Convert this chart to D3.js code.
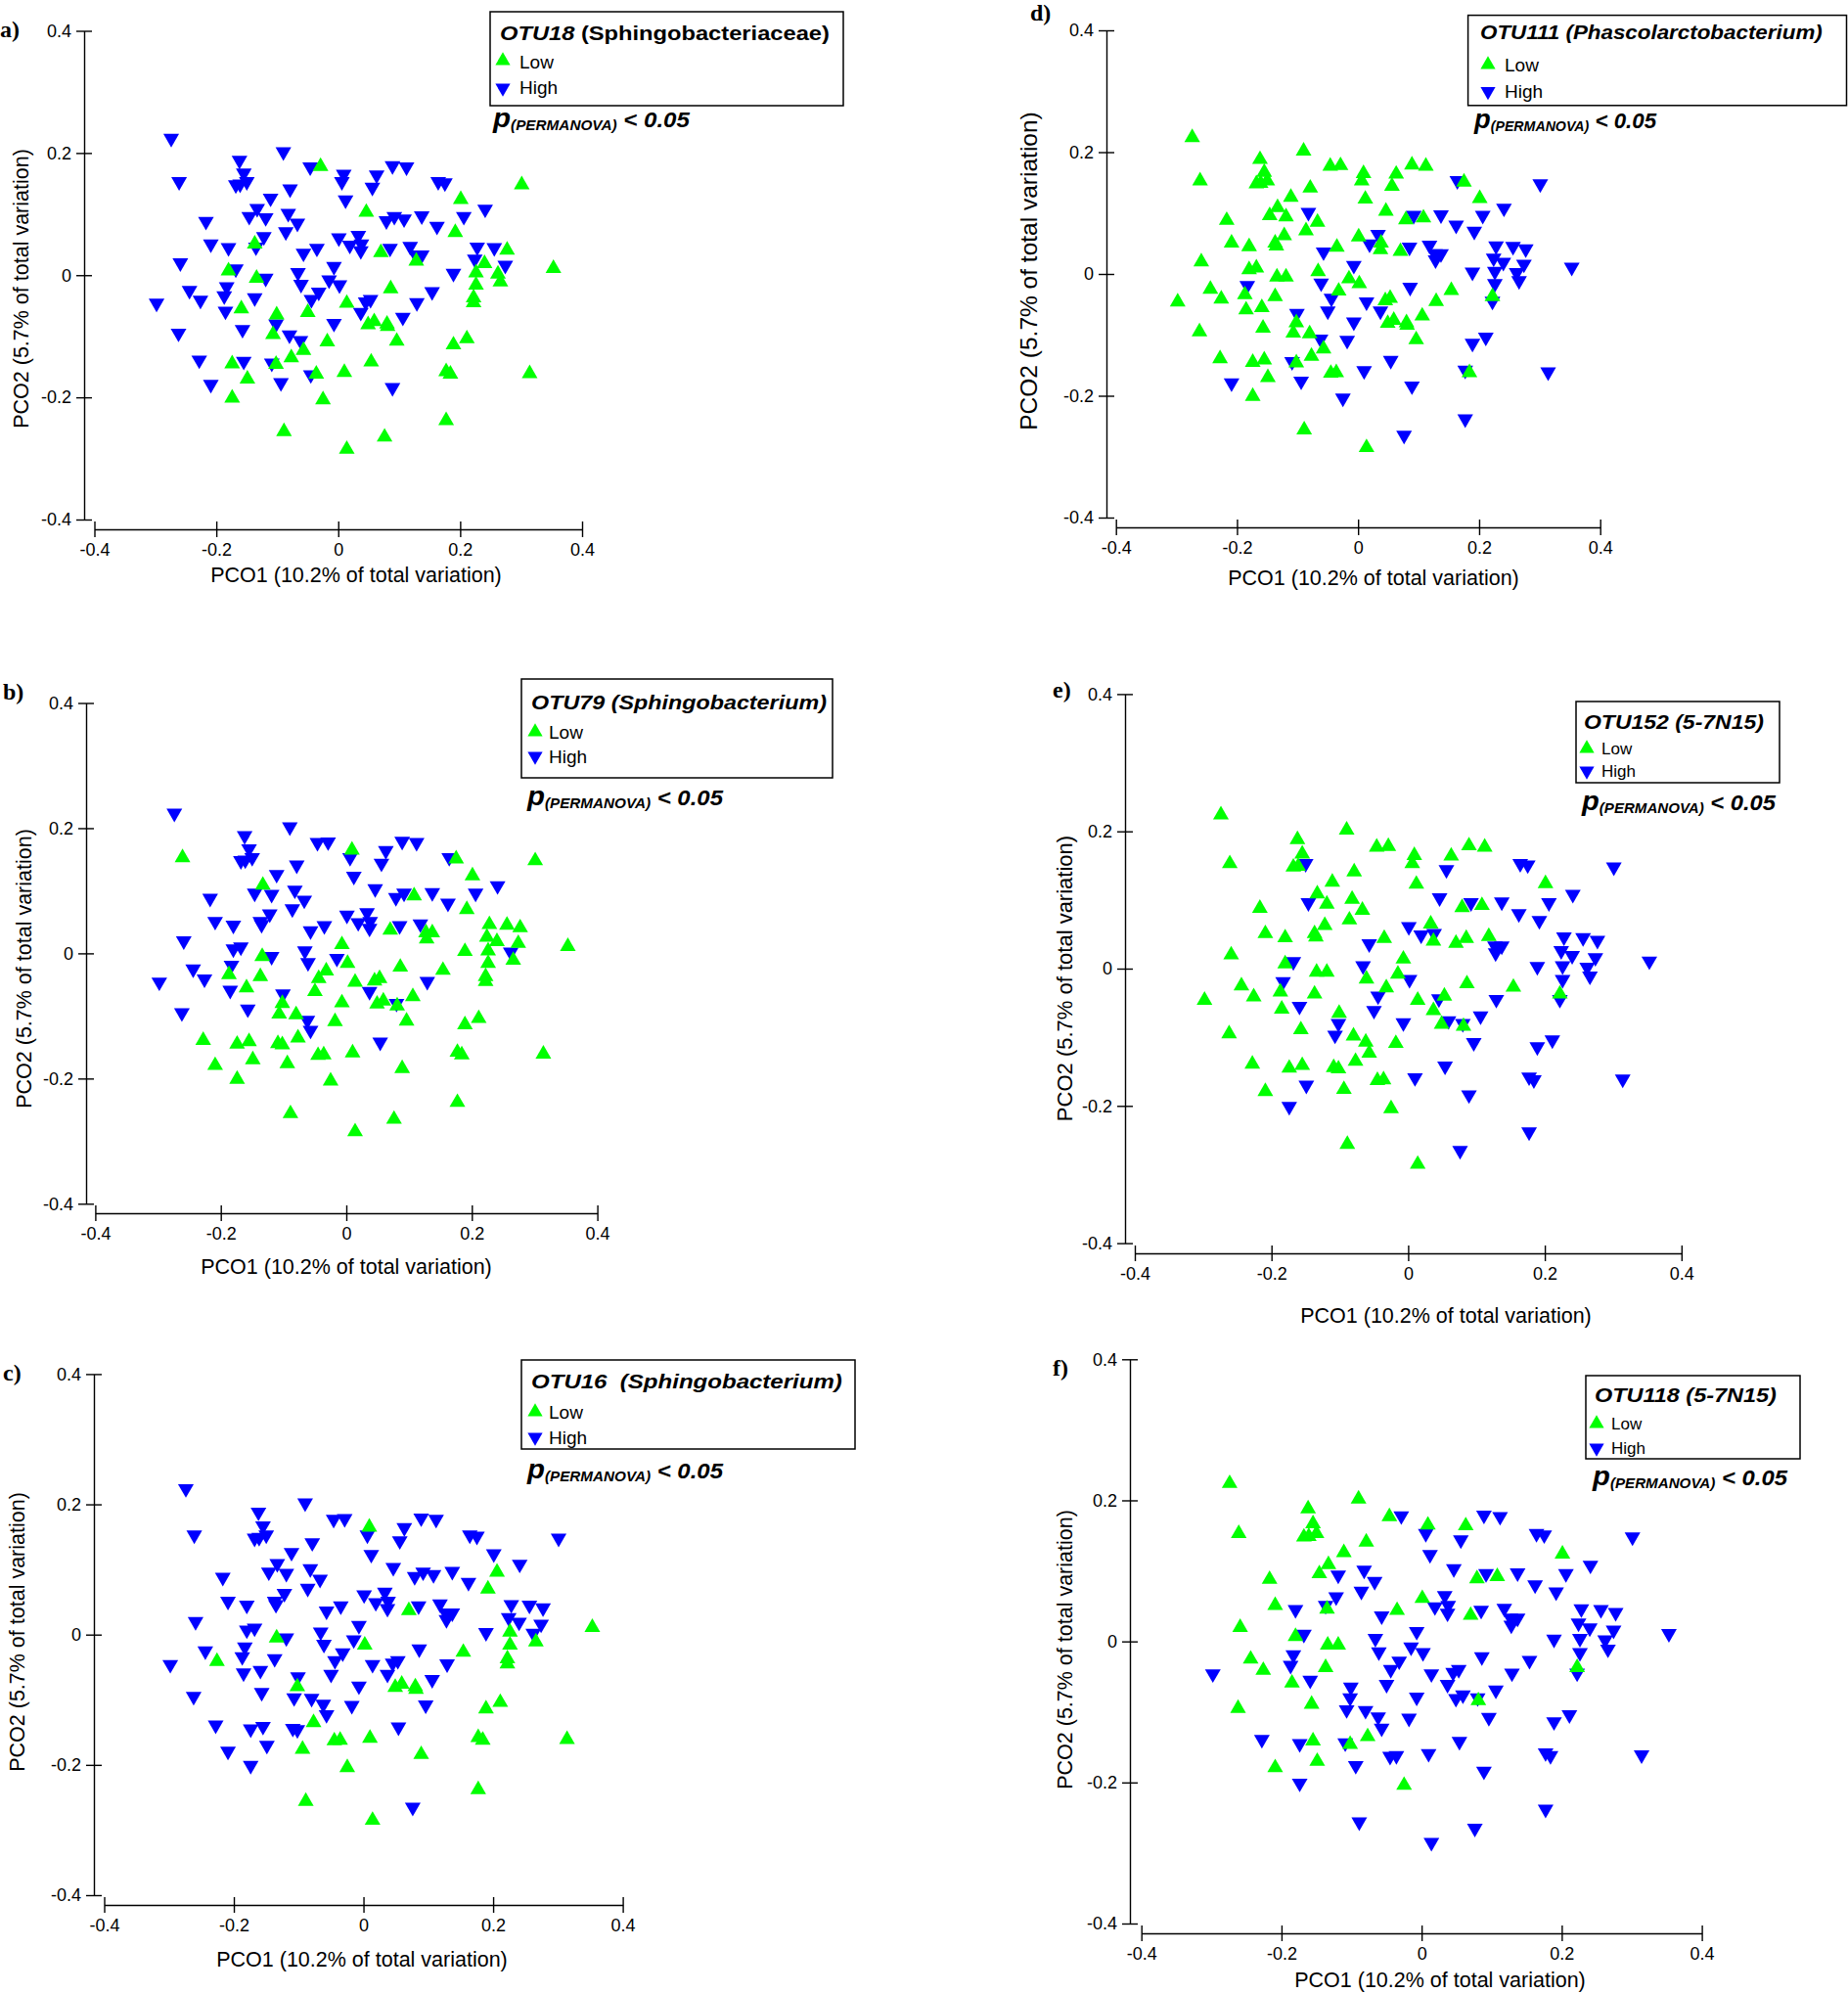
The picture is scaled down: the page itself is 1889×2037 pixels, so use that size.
<!DOCTYPE html>
<html>
<head>
<meta charset="utf-8">
<script src="https://cdn.jsdelivr.net/npm/d3@7"></script>
<style>
  body { margin: 0; background: #fff; }
  svg { display: block; }
  text { font-family: "Liberation Sans", Arial, sans-serif; fill: #000; }
</style>
</head>
<body>
<svg id="chart" width="1889" height="2037"></svg>
<script>
// ---------- DATA (same PCO ordination in all six panels) ----------
const pco1 = [
 -0.274,-0.090,-0.162,-0.046,-0.029,0.089,0.112,0.009,0.006,0.063,
 0.056,-0.155,-0.150,-0.168,-0.161,0.164,0.175,0.301,-0.261,-0.079,
 -0.111,0.012,0.201,0.241,-0.133,-0.146,-0.119,-0.082,-0.067,-0.217,
 0.046,0.079,0.092,0.108,0.137,0.206,0.162,-0.086,0.192,-0.122,
 -0.135,-0.137,-0.209,-0.180,0.001,0.033,0.019,0.038,0.037,-0.057,-0.035,
 0.070,0.085,0.118,0.127,0.137,0.128,0.228,0.256,0.277,-0.259,
 0.224,0.240,0.274,-0.007,-0.180,-0.168,-0.134,-0.119,-0.066,-0.061,
 -0.015,0.002,0.189,0.226,0.262,0.266,0.353,0.226,-0.183,-0.244,
 -0.226,-0.298,-0.187,-0.137,-0.032,-0.044,0.014,0.045,0.053,0.086,0.154,
 0.129,0.222,0.222,-0.185,-0.159,-0.050,-0.101,0.037,-0.157,-0.102,
 -0.107,-0.080,-0.007,0.049,0.059,0.080,0.081,0.106,-0.262,-0.062,
 -0.057,-0.018,0.096,0.189,0.211,-0.228,-0.174,-0.155,-0.109,-0.102,
 -0.077,0.054,-0.045,-0.036,0.010,0.177,0.184,0.314,-0.209,-0.149,
 -0.094,0.089,-0.174,-0.025,0.177,-0.089,0.076,0.014
];
const pco2 = [
 0.224,0.202,0.188,0.177,0.178,0.179,0.177,0.165,0.153,0.164,
 0.144,0.167,0.153,0.148,0.149,0.153,0.151,0.148,0.153,0.141,
 0.126,0.123,0.124,0.108,0.109,0.096,0.094,0.101,0.085,0.088,
 0.103,0.089,0.096,0.092,0.097,0.096,0.080,0.071,0.070,0.063,
 0.046,0.051,0.051,0.045,0.061,0.065,0.049,0.051,0.040,0.036,0.044,
 0.037,0.044,0.047,0.033,0.033,0.023,0.046,0.045,0.041,0.020,
 0.026,0.019,0.016,0.014,0.007,0.010,-0.005,-0.005,0.004,-0.015,
 -0.008,-0.016,0.003,0.004,0.002,-0.011,0.011,-0.016,-0.019,-0.025,
 -0.041,-0.046,-0.034,-0.037,-0.028,-0.040,-0.046,-0.044,-0.040,-0.022,-0.027,
 -0.045,-0.037,-0.045,-0.059,-0.055,-0.061,-0.065,-0.061,-0.089,-0.080,
 -0.097,-0.098,-0.079,-0.081,-0.076,-0.080,-0.084,-0.069,-0.095,-0.107,
 -0.123,-0.109,-0.108,-0.114,-0.104,-0.139,-0.145,-0.141,-0.144,-0.146,
 -0.135,-0.142,-0.163,-0.162,-0.159,-0.158,-0.162,-0.161,-0.179,-0.170,
 -0.176,-0.184,-0.201,-0.204,-0.238,-0.256,-0.265,-0.285
];
// group of each sample per panel: L = Low, H = High
const groupA = ["HHHHLHHHHH","HHHHHHHLHH","HHLHHHHHHH","LHHHHHHHLH","HLHHHHHHHHH","LHHHHLHHLH","HLHHLHLHHH","HHHLLLLLHH","HHHHHHLHHLH","HLLHLLLHHH","LHHLLLLHHH","LLLLLHLHHL","LLHLLLLLHL","HHLLLLLL"].join("");
const groupB = ["HHHHHHHLHH","HHHHHHLLLH","HHLHLHHHHH","HHHLHHHHLH","HHHHHHHHHHH","LHHLLLLLLH","LLLLHHLHHH","HLLLHLLLHH","HHLLLLLLLLL","HLLHLLHHHL","LLLLLHLLHH","HLLLLLLLLL","LHLLLLLLLL","LLLLLLLL"].join("");
const groupC = ["HHHHHHHLHH","HHHHHHHHHH","HHHHHHHHHH","HHHHHLHHLH","HHHHHHHHHHH","LHHHHHHHHH","HHHHHHLHHH","HLHLHLLLHH","LHHHHHHHHHL","HLLHHHHHHL","HHHLLLLHHH","HHHLLHHHHH","LHLLLLLLHH","LLHLLLHL"].join("");
const groupD = ["LLLLLLLLLL","LLLLLHLHLL","LLLHLLLHLL","LLHLHHHLHL","LLLLLHHLLHL","LHHHHHHHHL","HHHHLLLLLH","LLHHHHHHHL","LLLLLHHLLHL","LLHLLHHHLL","LLHLLLLLLH","LHLHHLLLHL","LHLLHHLHHL","HHLHHLHL"].join("");
const groupE = ["LLLLLLLLLL","HLHLLHHHLL","LLLHLHLLLL","HLHLHHHLHL","LLLLHLHHLHL","LLLHHHHHHL","HHHLLHLLHL","LHHHHHHHHL","LLLLLHLHLLL","HLHLHHLLLH","HLHLHHLHLL","LLHHHLLLLL","LHLLHHHHLH","LHHLHLHL"].join("");
const groupF = ["LLLLHHHLHL","HLLLLHHHLL","LHLHLLHHHL","HLHLHHHHHH","LHLHLHHHHHL","LHHHHHHHHL","HHHHLHLLHH","HHHHHHHHHL","LHHLHHHHHHH","HLHLHHHHLH","HHHHHHLHLH","HHHHHHHLHL","LHHHHHHHLL","HHHLHHHH"].join("");
const panelGroups = [groupA, groupB, groupC, groupD, groupE, groupF];

const panelLetters = ["a)", "b)", "c)", "d)", "e)", "f)"];
const otuNames = ["OTU18", "OTU79", "OTU16", "OTU111", "OTU152", "OTU118"];
const taxaNames = [" (Sphingobacteriaceae)", " (Sphingobacterium)", "  (Sphingobacterium)", " (Phascolarctobacterium)", " (5-7N15)", " (5-7N15)"];
const groupNames = ["Low", "High"];
const tickValues = [-0.4, -0.2, 0, 0.2, 0.4];
const tickLabels = ["-0.4", "-0.2", "0", "0.2", "0.4"];
const xTitle = "PCO1 (10.2% of total variation)";
const yTitle = "PCO2 (5.7% of total variation)";
const pSymbol = "p", pSub = "(PERMANOVA)", pValue = " < 0.05";

// ---------- LAYOUT ----------
const layouts = [
 {lab:[0,38], yAx:86, yT:31.5, yB:531, xAx:541, xL:96.5, xR:595,
  xt:[364,595], yt:[29,295], ytSize:21.5, box:[501,12,862,108], title:[511,41,337], titleItalicAll:false,
  low:[514,62,531,70], high:[514,90,531,96], lhSize:19, p:[504,130,203]},
 {lab:[3,715], yAx:88, yT:718.5, yB:1230.3, xAx:1240, xL:97.4, xR:610.6,
  xt:[354,1302], yt:[32,990], ytSize:21.5, box:[533,694,851,795], title:[543,725,302], titleItalicAll:true,
  low:[547,748,561,755], high:[547,773,561,780], lhSize:19, p:[539,823,202]},
 {lab:[3,1411], yAx:96, yT:1404.4, yB:1937, xAx:1947, xL:106.5, xR:636.6,
  xt:[370,2010], yt:[25,1668], ytSize:21.5, box:[533,1390,874,1481], title:[543,1419,318], titleItalicAll:true,
  low:[547,1443,561,1450], high:[547,1469,561,1476], lhSize:19, p:[539,1511,202]},
 {lab:[1053,21], yAx:1131, yT:31, yB:529, xAx:539, xL:1140.7, xR:1635.7,
  xt:[1404,598], yt:[1060,277], ytSize:24.5, box:[1500.6,15.6,1887.5,107.8], title:[1513,40,350], titleItalicAll:true,
  low:[1521,66,1538,73], high:[1521,93.5,1538,100], lhSize:19, p:[1507,131,188]},
 {lab:[1076,713], yAx:1150, yT:709.4, yB:1270.6, xAx:1281, xL:1160, xR:1718.8,
  xt:[1478,1352], yt:[1096,1000], ytSize:22, box:[1611,717,1819,800], title:[1619,745,184], titleItalicAll:true,
  low:[1622,765,1637,771], high:[1622,788,1637,794], lhSize:17, p:[1617,828,200]},
 {lab:[1076,1406], yAx:1155, yT:1389.3, yB:1966, xAx:1976, xL:1166.7, xR:1739.6,
  xt:[1472,2031], yt:[1096,1686], ytSize:21.5, box:[1621,1406,1840,1491], title:[1630,1433,186], titleItalicAll:true,
  low:[1632,1455,1647,1461], high:[1632,1480,1647,1486], lhSize:17, p:[1628,1518,201]}
];

const colors = { L: "#00ff00", H: "#0000ff" };
const svg = d3.select("#chart");
const tri = d3.symbol().type(d3.symbolTriangle).size(112)();
const triLegend = d3.symbol().type(d3.symbolTriangle).size(100)();

const samples = pco1.map((v, i) => ({ x: v, y: pco2[i] }));

function fitText(parent, x, y, width, build) {
  const holder = parent.append("g").attr("transform", `translate(${x},${y})`);
  const t = holder.append("text");
  build(t);
  const w = t.node().getBBox().width;
  if (w > 0) holder.attr("transform", `translate(${x},${y}) scale(${width / w},1)`);
  return holder;
}

layouts.forEach((L, pi) => {
  const g = svg.append("g");
  const groups = panelGroups[pi];
  const x = d3.scaleLinear().domain([-0.4, 0.4]).range([L.xL, L.xR]);
  const y = d3.scaleLinear().domain([-0.4, 0.4]).range([L.yB, L.yT]);

  // panel letter
  g.append("text").attr("x", L.lab[0]).attr("y", L.lab[1])
    .style("font-family", '"Liberation Serif", "Times New Roman", serif')
    .style("font-weight", "bold").style("font-size", "24px").text(panelLetters[pi]);

  // axes
  const yAxis = d3.axisLeft(y).tickValues(tickValues).tickFormat((d, i) => tickLabels[i])
    .tickSizeInner(8).tickSizeOuter(0).tickPadding(5);
  const yg = g.append("g").attr("transform", `translate(${L.yAx},0)`).call(yAxis);
  const xAxis = d3.axisBottom(x).tickValues(tickValues).tickFormat((d, i) => tickLabels[i])
    .tickSizeInner(8).tickSizeOuter(0).tickPadding(6);
  const xg = g.append("g").attr("transform", `translate(0,${L.xAx})`).call(xAxis);
  [yg, xg].forEach(a => {
    a.attr("font-family", null).attr("font-size", null);
    a.select(".domain").attr("stroke", "#000").attr("stroke-width", 1.4);
    a.selectAll(".tick line").attr("stroke", "#000").attr("stroke-width", 1.4);
    a.selectAll(".tick text").style("font-family", '"Liberation Sans", Arial, sans-serif')
      .style("font-size", "18px").attr("fill", "#000");
  });
  yg.selectAll(".tick line").attr("x1", 8).attr("x2", -8);
  xg.selectAll(".tick line").attr("y1", -8).attr("y2", 8);

  // axis titles
  g.append("text").attr("x", L.xt[0]).attr("y", L.xt[1]).attr("text-anchor", "middle")
    .style("font-size", "21.5px").text(xTitle);
  g.append("text").attr("transform", `translate(${L.yt[0]},${L.yt[1]}) rotate(-90)`)
    .attr("text-anchor", "middle").style("font-size", L.ytSize + "px").text(yTitle);

  // points: High first, Low on top
  const pts = samples.map((s, i) => ({ ...s, grp: groups[i] }));
  ["H", "L"].forEach(gr => {
    g.append("g").selectAll("path")
      .data(pts.filter(d => d.grp === gr))
      .join("path")
      .attr("d", tri)
      .attr("transform", d => `translate(${x(d.x)},${y(d.y)})` + (gr === "H" ? " rotate(180)" : ""))
      .attr("fill", colors[gr]);
  });

  // legend box
  const b = L.box;
  g.append("rect").attr("x", b[0]).attr("y", b[1]).attr("width", b[2] - b[0]).attr("height", b[3] - b[1])
    .attr("fill", "none").attr("stroke", "#000").attr("stroke-width", 1.5);
  fitText(g, L.title[0], L.title[1], L.title[2], t => {
    t.style("font-weight", "bold").style("font-size", "21px");
    t.append("tspan").style("font-style", "italic").text(otuNames[pi]);
    t.append("tspan").style("font-style", L.titleItalicAll ? "italic" : "normal")
      .attr("xml:space", "preserve").text(taxaNames[pi]);
  });
  [["L", L.low, 0], ["H", L.high, 1]].forEach(([gr, pos, k]) => {
    g.append("path").attr("d", triLegend)
      .attr("transform", `translate(${pos[0]},${pos[1]})` + (gr === "H" ? " rotate(180)" : ""))
      .attr("fill", colors[gr]);
    g.append("text").attr("x", pos[2]).attr("y", pos[3]).style("font-size", L.lhSize + "px").text(groupNames[k]);
  });
  // p(PERMANOVA) < 0.05
  fitText(g, L.p[0], L.p[1], L.p[2], t => {
    t.style("font-weight", "bold").style("font-style", "italic");
    t.append("tspan").style("font-size", "27px").text(pSymbol);
    t.append("tspan").style("font-size", "14px").attr("dy", 3).text(pSub);
    t.append("tspan").style("font-size", "22px").attr("dy", -3).attr("xml:space", "preserve").text(pValue);
  });
});
</script>
</body>
</html>
